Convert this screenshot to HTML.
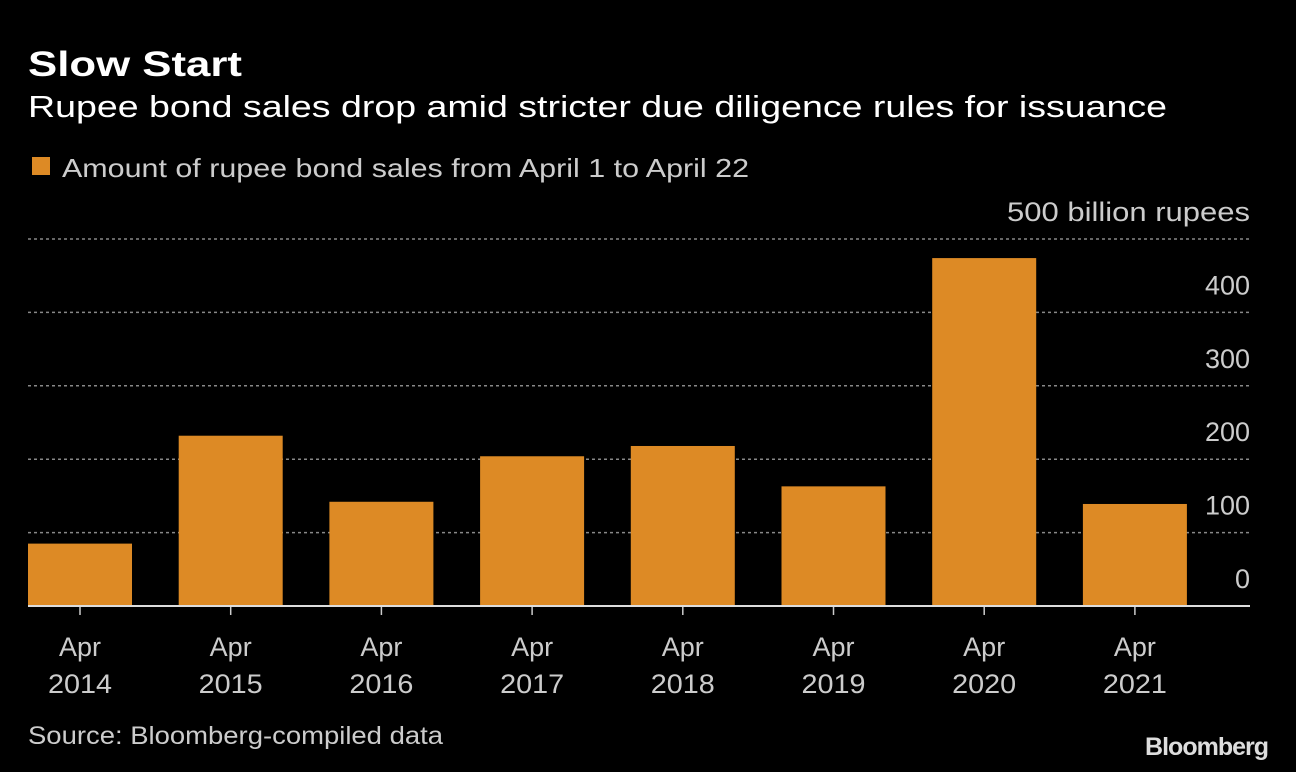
<!DOCTYPE html>
<html><head><meta charset="utf-8"><style>
body{margin:0;background:#000;width:1296px;height:772px;overflow:hidden;font-family:"Liberation Sans",sans-serif;color:#fff}
</style></head><body>
<svg width="1296" height="772" viewBox="0 0 1296 772" xmlns="http://www.w3.org/2000/svg" style="position:absolute;left:0;top:0">
<text x="28" y="76" font-size="35" font-weight="bold" fill="#fff" font-family="Liberation Sans, sans-serif" textLength="214" lengthAdjust="spacingAndGlyphs">Slow Start</text>
<text x="28" y="117" font-size="31" fill="#fff" font-family="Liberation Sans, sans-serif" textLength="1139" lengthAdjust="spacingAndGlyphs">Rupee bond sales drop amid stricter due diligence rules for issuance</text>
<rect x="32" y="157" width="18" height="18" fill="#dd8a25"/>
<text x="62" y="177" font-size="26" fill="#ccc" font-family="Liberation Sans, sans-serif" textLength="687" lengthAdjust="spacingAndGlyphs">Amount of rupee bond sales from April 1 to April 22</text>
<g id="grid"></g><g id="bars"></g><g id="xaxis"></g>
<text x="28" y="744" font-size="25" fill="#ccc" font-family="Liberation Sans, sans-serif" textLength="415" lengthAdjust="spacingAndGlyphs">Source: Bloomberg-compiled data</text>
<text x="1268" y="755" text-anchor="end" font-size="25" font-weight="bold" fill="#ddd" font-family="Liberation Sans, sans-serif" letter-spacing="-1">Bloomberg</text>
</svg>
<script>
const categories=["2014","2015","2016","2017","2018","2019","2020","2021"];
const values=[85,232,142,204,218,163,474,139];
const tickValues=[0,100,200,300,400,500];
const tickLabels=["0","100","200","300","400","500 billion rupees"];
const NS="http://www.w3.org/2000/svg";
const x0=28,x1=1250,y0=606,pxPer=0.734,step=150.7,bw=104;
const y=v=>y0-v*pxPer;
const xc=i=>80+i*step;
function mk(t,a,p){const e=document.createElementNS(NS,t);for(const k in a)e.setAttribute(k,a[k]);p.appendChild(e);return e;}
const g=document.getElementById('grid'),b=document.getElementById('bars'),xa=document.getElementById('xaxis');
const F='Liberation Sans, sans-serif';
tickValues.forEach((v,i)=>{
 if(v>0){const l=mk('line',{x1:x0,x2:x1,y1:y(v),y2:y(v),stroke:'#888','stroke-width':1.5,'stroke-dasharray':'3,3'},g);
 
 }
 const t=mk('text',{x:x1,y:y(v)-18,'text-anchor':'end','font-size':27,fill:'#ccc','font-family':F},g);
 t.textContent=tickLabels[i];
 if(i===tickLabels.length-1){t.setAttribute('textLength',243);t.setAttribute('lengthAdjust','spacingAndGlyphs');}
 
 
});
values.forEach((v,i)=>{
 const r=mk('rect',{x:xc(i)-bw/2,y:y(v),width:bw,height:v*pxPer,fill:'#dd8a25'},b);
 
 
 const tk=mk('line',{x1:xc(i),x2:xc(i),y1:y0,y2:y0+9,stroke:'#ccc','stroke-width':1.5},xa);
 
 
 const t1=mk('text',{x:xc(i),y:656,'text-anchor':'middle','font-size':27,fill:'#ccc','font-family':F},xa);
 t1.textContent='Apr';
 
 
 const t2=mk('text',{x:xc(i),y:693,'text-anchor':'middle','font-size':27,fill:'#ccc','font-family':F,textLength:64,lengthAdjust:'spacingAndGlyphs'},xa);
 t2.textContent=categories[i];
 
 
});
const ax=mk('line',{x1:x0,x2:x1,y1:y0,y2:y0,stroke:'#ddd','stroke-width':2},xa);


</script>
</body></html>
